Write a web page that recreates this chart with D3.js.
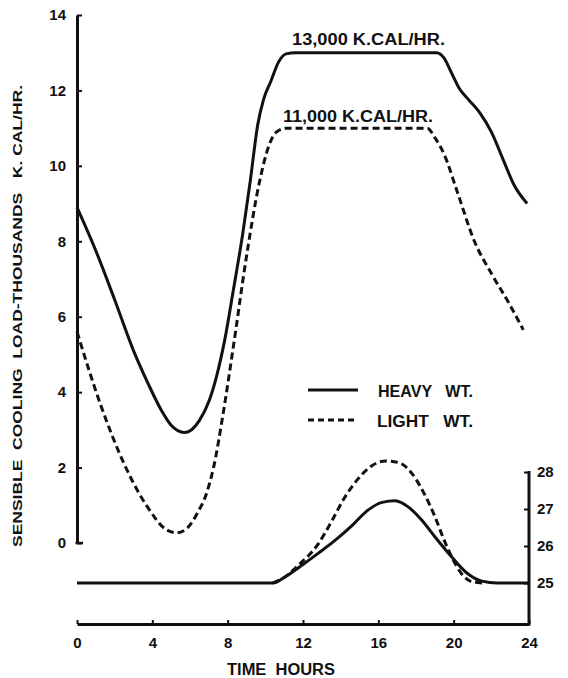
<!DOCTYPE html>
<html>
<head>
<meta charset="utf-8">
<script src="https://cdn.jsdelivr.net/npm/d3@7"></script>
<style>
  html, body { margin: 0; padding: 0; background: #ffffff; }
  svg { display: block; }
  text { font-family: "Liberation Sans", Arial, sans-serif; font-weight: bold; fill: #111; white-space: pre; }
</style>
</head>
<body>
<svg id="chart" width="568" height="678"></svg>
<script>
// ---- Data ----
const hourTicks = [0, 4, 8, 12, 16, 20, 24];
const loadTicks = [0, 2, 4, 6, 8, 10, 12, 14];
const tempTicks = [25, 26, 27, 28];

// Sensible cooling load, thousands kcal/hr
const heavyLoadHours  = [0, 1.0, 2.0, 3.0, 3.8, 4.5, 5.0, 5.35, 5.7, 6.05, 6.5, 7.0, 7.4, 7.85, 8.3, 8.8, 9.2, 9.6, 9.9, 10.3, 10.7, 11.1, 11.6, 19.1, 19.5, 19.9, 20.3, 20.8, 21.4, 22.0, 22.6, 23.2, 23.9];
const heavyLoadValues = [8.9, 7.75, 6.45, 5.1, 4.2, 3.5, 3.12, 2.98, 2.93, 2.99, 3.25, 3.75, 4.4, 5.4, 6.7, 8.2, 9.6, 11.1, 11.75, 12.25, 12.75, 12.97, 13.0, 13.0, 12.85, 12.45, 12.05, 11.75, 11.4, 10.9, 10.2, 9.5, 9.0];

const lightLoadHours  = [0, 1.3, 2.5, 3.75, 4.75, 5.3, 5.9, 6.4, 6.9, 7.25, 7.75, 8.3, 9.0, 9.7, 10.2, 10.6, 11.1, 18.6, 19.0, 19.5, 20.2, 21.1, 22.0, 23.0, 23.7];
const lightLoadValues = [5.6, 3.6, 2.1, 0.95, 0.35, 0.27, 0.42, 0.8, 1.35, 2.0, 3.4, 5.2, 7.6, 9.6, 10.55, 10.9, 11.0, 11.0, 10.75, 10.3, 9.3, 8.0, 7.15, 6.3, 5.65];

// Temperature, deg C (right axis)
const heavyTempHours  = [0, 10.4, 11.0, 12.0, 12.8, 13.7, 14.6, 15.4, 16.2, 16.9, 17.6, 18.3, 19.0, 19.9, 20.7, 21.5, 22.3, 24];
const heavyTempValues = [25, 25, 25.15, 25.5, 25.8, 26.15, 26.55, 26.95, 27.18, 27.22, 27.05, 26.7, 26.25, 25.7, 25.27, 25.05, 25, 25];

const lightTempHours  = [10.4, 11.0, 11.8, 12.8, 13.5, 14.2, 14.9, 15.6, 16.4, 17.1, 17.8, 18.4, 19.0, 19.5, 20.0, 20.5, 21.0, 21.6];
const lightTempValues = [25, 25.15, 25.5, 26.05, 26.65, 27.3, 27.8, 28.15, 28.3, 28.25, 27.95, 27.45, 26.8, 26.15, 25.6, 25.2, 25.03, 25.0];

const plateauLabels = ["13,000 K.CAL/HR.", "11,000 K.CAL/HR."];
const legendLabels = ["HEAVY   WT.", "LIGHT   WT."];
const yTitle = "SENSIBLE  COOLING  LOAD-THOUSANDS   K. CAL/HR.";
const xTitle = "TIME  HOURS";

// ---- Scales ----
const svg = d3.select("#chart");
const x = d3.scaleLinear().domain([0, 24]).range([77, 529]);
const y = d3.scaleLinear().domain([0, 14]).range([543, 15]);
const yT = d3.scaleLinear().domain([25, 28]).range([583, 472]);
const xAxisY = 624;

const curve = d3.curveMonotoneX;
const lineLoad = d3.line().x(d => x(d[0])).y(d => y(d[1])).curve(curve);
const lineTemp = d3.line().x(d => x(d[0])).y(d => yT(d[1])).curve(curve);
const zip = (a, b) => a.map((v, i) => [v, b[i]]);

function styleAxis(g) {
  g.attr("font-family", null).attr("font-size", null);
  g.selectAll(".tick line").attr("stroke", "#111").attr("stroke-width", 2);
  g.selectAll(".tick text").attr("font-size", 15).attr("font-weight", "bold").attr("fill", "#111");
}

// ---- Axes ----
const leftAxis = d3.axisLeft(y).tickValues(loadTicks).tickFormat(d3.format("d"))
  .tickSizeInner(-5).tickSizeOuter(0).tickPadding(11);
const gL = svg.append("g").attr("transform", `translate(${x(0)},0)`).call(leftAxis);
gL.select(".domain").attr("stroke", "#111").attr("stroke-width", 3);
styleAxis(gL);
gL.append("line").attr("x1", -1.5).attr("x2", 6).attr("y1", y(0)).attr("y2", y(0)).attr("stroke", "#111").attr("stroke-width", 2.5);

const bottomAxis = d3.axisBottom(x).tickValues(hourTicks).tickFormat(d3.format("d"))
  .tickSizeInner(-4).tickSizeOuter(0).tickPadding(13);
const gB = svg.append("g").attr("transform", `translate(0,${xAxisY})`).call(bottomAxis);
gB.select(".domain").attr("stroke", "#111").attr("stroke-width", 3);
styleAxis(gB);

const rightAxis = d3.axisRight(yT).tickValues(tempTicks).tickFormat(d3.format("d"))
  .tickSizeInner(-5).tickSizeOuter(0).tickPadding(8);
const gR = svg.append("g").attr("transform", `translate(${x(24)},0)`).call(rightAxis);
gR.select(".domain").remove();
gR.append("line").attr("x1", 0).attr("x2", 0).attr("y1", yT(28) - 1).attr("y2", xAxisY + 1.5).attr("stroke", "#111").attr("stroke-width", 3);
styleAxis(gR);

// ---- Curves ----
svg.append("path").datum(zip(heavyLoadHours, heavyLoadValues)).attr("d", lineLoad)
  .attr("fill", "none").attr("stroke", "#111").attr("stroke-width", 3).attr("stroke-linejoin", "round");
svg.append("path").datum(zip(lightLoadHours, lightLoadValues)).attr("d", lineLoad)
  .attr("fill", "none").attr("stroke", "#111").attr("stroke-width", 3).attr("stroke-dasharray", "7,4");
svg.append("path").datum(zip(heavyTempHours, heavyTempValues)).attr("d", lineTemp)
  .attr("fill", "none").attr("stroke", "#111").attr("stroke-width", 3).attr("stroke-linejoin", "round");
svg.append("path").datum(zip(lightTempHours, lightTempValues)).attr("d", lineTemp)
  .attr("fill", "none").attr("stroke", "#111").attr("stroke-width", 3).attr("stroke-dasharray", "7,4");

// ---- Plateau labels ----
svg.append("text").attr("x", 292).attr("y", 45).attr("font-size", 16)
  .attr("textLength", 153).attr("lengthAdjust", "spacingAndGlyphs").text(plateauLabels[0]);
svg.append("text").attr("x", 283).attr("y", 122).attr("font-size", 16)
  .attr("textLength", 150).attr("lengthAdjust", "spacingAndGlyphs").text(plateauLabels[1]);

// ---- Legend ----
svg.append("line").attr("x1", 308).attr("x2", 358).attr("y1", 390).attr("y2", 390)
  .attr("stroke", "#111").attr("stroke-width", 3);
svg.append("text").attr("x", 378).attr("y", 397).attr("font-size", 16)
  .attr("textLength", 95).attr("lengthAdjust", "spacingAndGlyphs").text(legendLabels[0]);
svg.append("line").attr("x1", 308).attr("x2", 358).attr("y1", 420).attr("y2", 420)
  .attr("stroke", "#111").attr("stroke-width", 3).attr("stroke-dasharray", "6,4");
svg.append("text").attr("x", 377).attr("y", 427).attr("font-size", 16)
  .attr("textLength", 96).attr("lengthAdjust", "spacingAndGlyphs").text(legendLabels[1]);

// ---- Axis titles ----
svg.append("text").attr("transform", "translate(22,316) rotate(-90)").attr("text-anchor", "middle")
  .attr("font-size", 13).attr("textLength", 462).attr("lengthAdjust", "spacingAndGlyphs").text(yTitle);
svg.append("text").attr("x", 227).attr("y", 675).attr("font-size", 16)
  .attr("textLength", 108).attr("lengthAdjust", "spacingAndGlyphs").text(xTitle);
</script>
</body>
</html>
